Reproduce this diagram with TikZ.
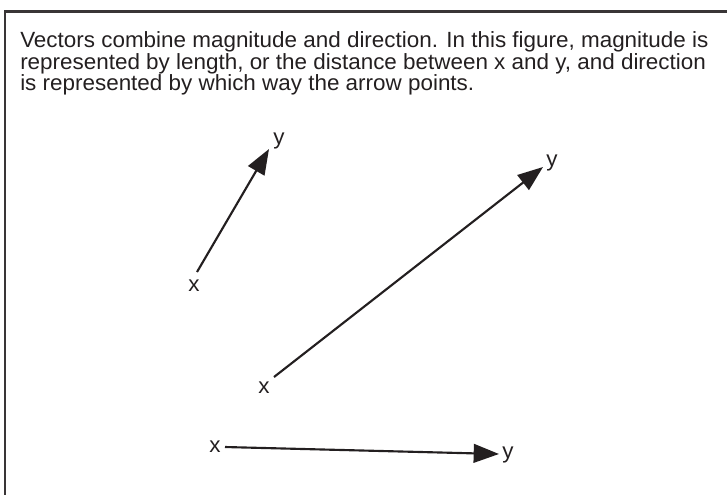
\documentclass[tikz,border=0pt]{standalone}
\usepackage{fontspec}
\setmainfont{Liberation Sans}[FakeStretch=1.02]
\usetikzlibrary{arrows.meta}
\definecolor{ink}{HTML}{231F20}
\tikzset{
  body/.style={anchor=base west, inner sep=0pt, font=\fontsize{16.5}{16}\selectfont, text=ink},
  lbl/.style={inner sep=0pt, font=\fontsize{16.5}{16}\selectfont, text=ink},
  vec/.style={draw=ink, line width=1.6pt, -{Triangle[length=19pt,width=14pt]}},
  frame/.style={draw=ink!90, line width=1.6pt}
}
\begin{document}
\begin{tikzpicture}[x=0.75pt,y=-0.75pt]
\useasboundingbox (0,0) rectangle (727,494);
% frame (only top and left edges visible)
\draw[frame] (5,500) -- (5,11.5) -- (740,11.5);
% text
\node[body] (t1) at (20,47.5) {Vectors combine magnitude and direction. In this figure, magnitude is};
\node[body] (t2) at (20,69) {represented by length, or the distance between x and y, and direction};
\node[body] (t3) at (20,90.5) {is represented by which way the arrow points.};
% vector 1
\coordinate (a1) at (197,272);
\coordinate (b1) at (269,149);
\node[lbl] (x1) at (194,286) {x};
\node[lbl] (y1) at (279,141) {y};
\draw[vec] (a1) -- (b1);
% vector 2
\coordinate (a2) at (274,377);
\coordinate (b2) at (543,167);
\node[lbl] (x2) at (264,388) {x};
\node[lbl] (y2) at (552,163) {y};
\draw[vec] (a2) -- (b2);
% vector 3
\coordinate (a3) at (225,447);
\coordinate (b3) at (499,454);
\node[lbl] (x3) at (215,447) {x};
\node[lbl] (y3) at (508,455) {y};
\draw[vec] (a3) -- (b3);
\end{tikzpicture}
\end{document}
